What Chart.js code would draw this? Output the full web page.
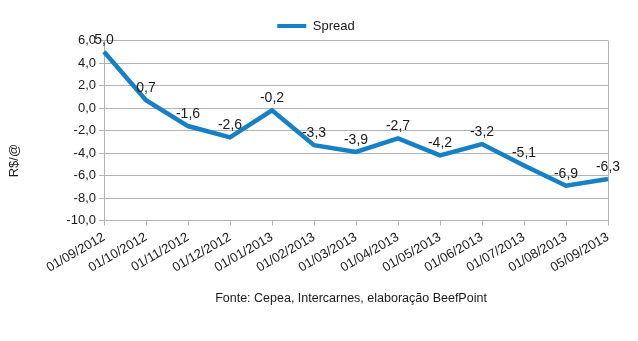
<!DOCTYPE html>
<html>
<head>
<meta charset="utf-8">
<script src="https://cdn.jsdelivr.net/npm/chart.js@4/dist/chart.umd.min.js"></script>
<style>
  html, body { margin: 0; padding: 0; background: #ffffff; }
  #wrap { width: 638px; height: 341px; position: relative; }
</style>
</head>
<body>
<div id="wrap"><canvas id="c" width="638" height="341"></canvas></div>
<script>
// ---- data ----
const categories = ["01/09/2012","01/10/2012","01/11/2012","01/12/2012","01/01/2013","01/02/2013","01/03/2013","01/04/2013","01/05/2013","01/06/2013","01/07/2013","01/08/2013","05/09/2013"];
const spreadValues = [5.0, 0.7, -1.6, -2.6, -0.2, -3.3, -3.9, -2.7, -4.2, -3.2, -5.1, -6.9, -6.3];
const seriesName = "Spread";
const yAxisTitle = "R$/@";
const sourceNote = "Fonte: Cepea, Intercarnes, elaboração BeefPoint";
const yMin = -10, yMax = 6, yStep = 2;

const LINE_COLOR = "#1580c6";
const GRID_COLOR = "#b3b3b3";
const TEXT_COLOR = "#1a1a1a";
const FONT = "'Liberation Sans', Arial, sans-serif";
const fmt = v => v.toFixed(1).replace('.', ',');

// layout tweaks: legend height trim, legend/title horizontal shift, y-title vertical shift
const layoutTweaks = {
  id: 'layoutTweaks',
  beforeLayout(chart) {
    const lg = chart.legend;
    if (lg && !lg._trimmed) {
      const f = lg.fit;
      lg.fit = function () { f.call(this); this.height -= 2; };
      lg._trimmed = true;
    }
  },
  afterLayout(chart) {
    const lg = chart.legend;
    if (lg) { lg.left += 12; lg.right += 12; }
    const tb = chart.titleBlock;
    if (tb) { tb.left += 47; tb.right += 47; }
    const ys = chart.scales.y;
    if (ys && !ys._titlePatched) {
      const orig = ys.drawTitle;
      ys.drawTitle = function () {
        const ctx = this.ctx;
        ctx.save();
        ctx.translate(0, 30);
        orig.apply(this, arguments);
        ctx.restore();
      };
      ys._titlePatched = true;
    }
  }
};

const rightBorder = {
  id: 'rightBorder',
  beforeDatasetsDraw(chart) {
    const { ctx, chartArea } = chart;
    ctx.save();
    ctx.strokeStyle = GRID_COLOR;
    ctx.lineWidth = 1;
    const x = Math.round(chartArea.right) + 0.5;
    ctx.beginPath();
    ctx.moveTo(x, chartArea.top);
    ctx.lineTo(x, chartArea.bottom);
    ctx.stroke();
    ctx.restore();
  }
};

const valueLabels = {
  id: 'valueLabels',
  afterDatasetsDraw(chart) {
    const { ctx } = chart;
    const meta = chart.getDatasetMeta(0);
    const data = chart.data.datasets[0].data;
    ctx.save();
    ctx.font = "14px " + FONT;
    ctx.fillStyle = TEXT_COLOR;
    ctx.textAlign = "center";
    ctx.textBaseline = "bottom";
    meta.data.forEach((pt, i) => {
      ctx.fillText(fmt(data[i]), pt.x, pt.y - 5);
    });
    ctx.restore();
  }
};

new Chart(document.getElementById('c'), {
  type: 'line',
  data: {
    labels: categories,
    datasets: [{
      label: seriesName,
      data: spreadValues,
      borderColor: LINE_COLOR,
      backgroundColor: LINE_COLOR,
      borderWidth: 4.5,
      tension: 0,
      pointRadius: 0,
      pointHoverRadius: 0,
      fill: false,
      clip: false
    }]
  },
  options: {
    responsive: false,
    animation: false,
    events: [],
    layout: { padding: { top: 12, left: 0, right: 30, bottom: 35 } },
    plugins: {
      legend: {
        display: true,
        position: 'top',
        labels: {
          font: { family: FONT, size: 13 },
          color: TEXT_COLOR,
          padding: 7.5,
          boxWidth: 29,
          boxHeight: 4,
          generateLabels: (chart) => [{
            text: seriesName,
            fillStyle: LINE_COLOR,
            strokeStyle: LINE_COLOR,
            lineWidth: 0,
            hidden: false,
            datasetIndex: 0,
            fontColor: TEXT_COLOR
          }]
        }
      },
      title: {
        display: true,
        position: 'bottom',
        text: sourceNote,
        font: { family: FONT, size: 12.5, weight: 'normal', lineHeight: 1.2 },
        color: TEXT_COLOR,
        padding: { top: 0, bottom: 0 }
      },
      tooltip: { enabled: false }
    },
    scales: {
      x: {
        offset: false,
        grid: { display: true, drawOnChartArea: false, drawTicks: true, tickLength: 5, color: GRID_COLOR },
        border: { display: true, color: GRID_COLOR },
        ticks: {
          autoSkip: false, maxRotation: 30, minRotation: 30, padding: 4,
          font: { family: FONT, size: 13 }, color: TEXT_COLOR
        },
        afterFit(scale) { scale.height = 70.4; }
      },
      y: {
        min: yMin, max: yMax,
        grid: { color: GRID_COLOR, drawTicks: true, tickLength: 5 },
        border: { display: true, color: GRID_COLOR },
        ticks: {
          stepSize: yStep, padding: 3,
          font: { family: FONT, size: 13 }, color: TEXT_COLOR,
          callback: v => fmt(v)
        },
        title: {
          display: true, text: yAxisTitle,
          font: { family: FONT, size: 13 }, color: TEXT_COLOR,
          padding: { top: 7, bottom: 4 }
        },
        afterFit(scale) { scale.width = 104; }
      }
    }
  },
  plugins: [layoutTweaks, rightBorder, valueLabels]
});
</script>
</body>
</html>
